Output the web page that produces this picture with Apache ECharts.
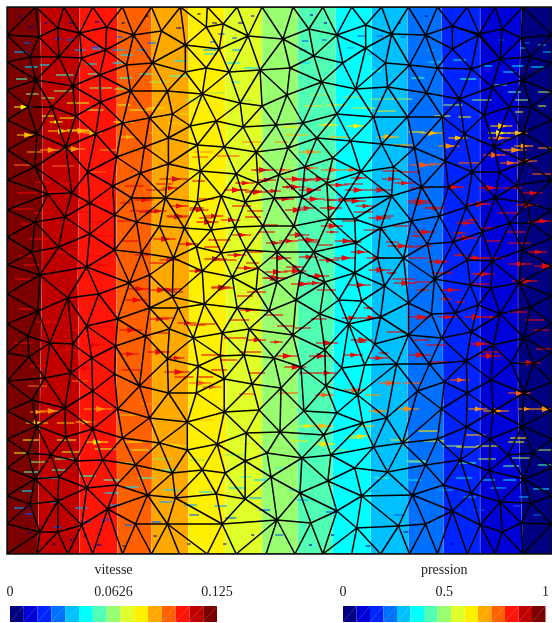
<!DOCTYPE html>
<html><head><meta charset="utf-8">
<style>html,body{margin:0;padding:0;background:#fff}#c{width:552px;height:623px}</style>
<script src="https://cdn.jsdelivr.net/npm/echarts@6/dist/echarts.min.js"></script>
</head><body><div id="c"></div>
<script>
const bandColors=['#7b0000','#c00000','#ff1408','#ff6000','#ffa800','#fff000','#e0ff28','#98ff70','#50ffb4','#00ffff','#00c0ff','#0070ff','#0024ff','#0000d8','#000080'];
const legendColors=bandColors.slice().reverse();
const speedTicks=['0','0.0626','0.125'];
const pressureTicks=['0','0.5','1'];
const edgeY=[7,140,280,410,554];
const bandEdges=[[7,7,7,7,7],[40,43,42,40,38],[80,80,78,80,80],[118,117,117,117,118],[152,153,152,153,152],[189,190,190,189,189],[225,227,227,227,226],[263,263,263,263,263],[299,299,299,299,299],[337,337,336,334,334],[373,373,373,372,372],[409,409,409,409,410],[443,445,444,445,445],[482,482,482,482,482],[524,519,520,520,525],[554,554,554,554,554]];
const boundaryNodes=[[7,7],[36,7],[64,7],[93,7],[123,7],[152,7],[181,7],[208,7],[238,7],[263,7],[294,7],[324,7],[353,7],[383,7],[410,7],[439,7],[469,7],[497,7],[525,7],[554,7],
[7,35],[7,62],[7,90],[7,120],[7,150],[7,180],[7,210],[7,237],[7,265],[7,294],[7,324],[7,353],[7,381],[7,411],[7,439],[7,468],[7,496],[7,524],[7,554],
[37,554],[68,554],[93,554],[123,554],[152,554],[180,554],[208,554],[237,554],[267,554],[296,554],[324,554],[353,554],[382,554],[411,554],[439,554],[469,554],[497,554],[525,554],[554,554],
[554,35],[554,63],[554,92],[554,120],[554,150],[554,180],[554,210],[554,238],[554,266],[554,296],[554,324],[554,353],[554,382],[554,411],[554,439],[554,468],[554,496],[554,524]];
const nodesTopLeft=[[39,37],[58,28],[80,33],[107,27],[134,35],[162,31],[186,45],[207,27],[224,24],[249,36],[30,57],[59,57],[82,58],[106,50],[127,65],[153,63],[186,72],[207,68],[220,49],[261,70],[230,72],[36,80],[73,86],[100,75],[131,91],[168,91],[203,94],[241,103],[28,107],[52,107],[76,116],[101,102],[123,123],[37,134],[66,147],[96,134],[35,167],[88,172],[117,157],[141,173],[48,194],[72,193],[90,203],[113,186],[132,198],[35,222],[65,217],[90,234],[115,215],[137,222],[160,226],[59,247],[32,252],[87,267],[115,250],[142,253],[40,275]];
const nodesCentreUpper=[[150,118],[173,114],[191,126],[217,121],[244,127],[277,125],[304,123],[338,114],[263,106],[169,138],[198,145],[225,147],[257,152],[289,148],[318,138],[145,147],[169,164],[201,171],[237,174],[259,183],[280,175],[306,167],[334,158],[166,198],[198,202],[222,196],[246,202],[275,198],[303,197],[328,183],[330,219],[185,228],[212,230],[236,227],[264,226],[295,226],[174,258],[197,247],[222,253],[247,250],[278,252],[315,252],[203,271],[233,277],[259,268],[278,282],[302,272],[326,282],[257,290],[150,275],[173,297]];
const nodesCentreLower=[[150,308],[179,308],[205,304],[238,308],[270,311],[297,300],[321,314],[340,300],[170,329],[194,338],[223,333],[250,329],[294,335],[168,359],[199,366],[221,356],[245,355],[275,358],[302,367],[326,350],[343,368],[169,393],[197,393],[225,379],[253,384],[282,388],[327,386],[225,412],[260,410],[305,411],[338,413],[188,422],[247,433],[281,432],[325,435],[160,443],[218,444],[268,453],[303,458],[332,455],[188,450],[173,473],[203,470],[226,473],[246,461],[272,477],[150,418]];
const nodesTopRight=[[310,29],[338,35],[367,25],[393,34],[427,35],[454,26],[481,34],[284,39],[315,56],[344,63],[367,48],[387,63],[411,65],[454,49],[439,68],[473,69],[291,68],[323,82],[357,89],[389,87],[428,93],[461,99],[288,95],[375,117],[409,117],[444,117],[352,141],[383,144],[416,148],[447,161],[466,134],[362,172],[395,167],[423,187],[450,187],[474,172],[345,199],[393,196],[441,216],[468,207],[356,219],[382,228],[413,221],[429,244],[455,242],[357,243],[379,258],[405,258],[436,279],[469,260],[356,273],[386,286],[410,303],[363,301],[472,285],[480,305],[457,313],[433,314],[382,317],[350,324],[410,335],[443,338],[473,332],[376,344]];
const nodesRightEdge=[[480,35],[504,29],[523,38],[502,59],[532,57],[525,80],[494,87],[511,107],[533,107],[486,115],[525,133],[496,147],[527,162],[501,172],[518,185],[497,198],[529,203],[512,223],[533,223],[484,232],[524,250],[494,261],[521,283],[493,288],[532,307],[502,314],[526,338],[495,345],[513,363],[535,364],[493,380],[526,393],[495,411],[524,426],[492,439],[510,455],[535,453],[491,471],[526,479],[502,502],[533,503],[523,523],[504,532],[482,525]];
const nodesBottomRight=[[468,361],[398,364],[431,364],[366,365],[446,382],[359,395],[419,391],[469,393],[388,418],[443,409],[364,423],[468,427],[375,447],[404,443],[439,439],[356,468],[389,472],[427,465],[462,460],[329,481],[301,493],[363,496],[414,495],[445,485],[473,493],[338,511],[454,511],[278,520],[312,523],[358,528],[400,526],[427,524]];
const nodesBottomLeft=[[68,298],[99,294],[130,283],[38,311],[87,326],[118,319],[146,336],[28,336],[50,343],[73,344],[116,346],[92,358],[29,357],[45,378],[71,373],[115,374],[140,386],[32,400],[93,391],[65,408],[118,409],[37,426],[93,429],[123,438],[66,437],[28,453],[51,455],[76,461],[103,460],[136,465],[35,479],[59,477],[87,488],[117,485],[148,495],[30,504],[58,501],[108,509],[176,498],[217,494],[246,499],[82,525],[136,524],[168,524],[223,524],[40,532],[58,532]];
const arrowsBlueDark=[[18,16,2],[44,23,2],[69,23,3],[95,22,3],[122,23,2],[146,16,2],[198,14,2],[213,23,3],[239,23,3],[252,16,2],[311,15,2],[325,23,2],[399,23,2],[426,16,2],[451,23,2],[484,16,2],[510,15,2],[29,27,3],[177,28,3],[18,546,2],[53,544,2],[84,536,2],[97,545,3],[123,546,2],[154,536,2],[188,544,2],[224,544,2],[252,535,2],[310,545,2],[332,535,2],[367,546,3],[405,532,3],[452,544,2],[490,546,2],[510,538,3],[28,533,2],[70,540,2]];
const arrowsBlue=[[24,43,4],[55,39,4],[67,40,4],[92,47,5],[117,37,4],[148,43,5],[211,42,3],[219,34,4],[233,38,3],[303,41,4],[323,40,3],[359,36,5],[378,36,4],[402,37,3],[436,36,4],[500,40,4],[527,43,3],[25,514,5],[54,527,5],[82,522,6],[102,520,5],[125,525,5],[152,522,6],[190,515,6],[226,518,7],[260,510,7],[327,512,6],[276,535,5],[395,515,7],[431,516,6],[475,510,7],[515,506,5],[535,515,5]];
const arrowsAzure=[[14,52,8],[75,50,7],[92,49,6],[113,50,8],[138,50,6],[204,50,8],[233,50,6],[300,50,5],[348,48,5],[368,54,7],[428,50,5],[522,48,4],[540,45,5],[545,52,5],[14,508,7],[50,502,7],[75,508,8],[110,505,8],[160,502,8],[185,505,8],[215,506,8],[250,498,8],[298,500,7],[370,491,8],[440,490,9],[465,497,8],[492,488,10],[521,497,7]];
const arrowsCyan=[[25,67,8],[40,65,6],[86,64,7],[113,63,7],[121,55,8],[175,61,8],[205,54,8],[228,63,8],[245,68,9],[300,63,7],[372,69,7],[430,62,9],[455,60,8],[505,72,8],[514,66,7],[533,67,9],[486,66,5],[22,491,7],[43,478,9],[105,493,9],[125,487,9],[165,490,9],[200,492,8],[230,488,10],[255,480,8],[290,490,7],[340,478,10],[410,480,8],[458,478,10],[484,480,8],[505,480,8],[535,489,10]];
const arrowsMint=[[16,79,7],[56,75,11],[88,74,6],[120,78,8],[140,74,8],[170,76,11],[232,82,6],[300,77,8],[325,79,6],[370,71,8],[413,78,8],[462,79,10],[496,85,8],[510,92,8],[24,472,9],[52,470,9],[80,476,10],[104,480,10],[139,478,10],[162,470,10],[240,477,8],[275,468,8],[310,462,9],[376,478,9],[410,462,11],[460,463,11],[505,466,10],[540,465,10]];
const arrowsLime=[[26,94,8],[42,98,8],[54,91,12],[90,88,14],[115,89,9],[150,82,12],[185,100,12],[210,93,10],[240,100,8],[310,95,12],[345,97,11],[372,99,14],[393,99,13],[445,105,12],[474,100,12],[517,100,8],[540,92,8],[30,462,10],[55,459,12],[118,463,10],[154,459,12],[190,460,10],[225,455,12],[270,448,12],[332,450,10],[408,461,12],[444,446,12],[480,459,11],[514,458,11],[538,450,10]];
const arrowsYellowGreen=[[42,116,8],[67,103,14],[85,110,12],[118,105,8],[130,110,14],[180,114,10],[203,112,10],[305,106,12],[327,105,13],[354,108,14],[378,111,12],[436,116,10],[460,117,8],[517,112,5],[540,106,5],[14,453,12],[62,452,11],[95,449,13],[132,450,11],[172,446,10],[240,444,11],[292,441,11],[346,438,12],[392,440,12],[425,441,13],[458,447,14],[478,446,14],[510,442,10]];
const arrowsYellow=[[14,107,12,1],[60,118,10],[50,122,8,1],[67,130,14],[114,122,12],[147,108,12],[168,123,12],[284,127,12],[320,125,12,1],[348,126,12,1],[410,132,10],[490,133,14,1],[23,440,10],[57,440,12],[86,442,14,1],[124,442,12],[165,445,10],[300,426,10,1],[314,444,14,1],[352,436,12,1],[420,431,12],[512,438,10]];
const arrowsAmber=[[17,135,13,1],[48,131,16,1],[70,131,14,1],[83,133,12,1],[121,137,10,1],[150,133,12],[172,124,12,1],[287,135,14],[330,137,12],[378,137,14,1],[422,133,14,1],[450,138,12,1],[492,126,14,1],[510,133,12,1],[26,423,14,1],[57,423,11],[76,422,12,1],[120,415,12],[163,416,12],[195,420,12],[312,426,14,1],[360,426,10],[468,435,12]];
const arrowsOrange=[[27,152,10],[40,150,14,1],[62,149,15,1],[100,150,14],[195,152,12],[243,142,12],[276,142,8],[300,152,14,1],[395,145,12],[440,146,13,1],[490,138,14,1],[503,150,16,1],[516,146,12,1],[540,148,10],[30,412,10,1],[40,411,14,1],[84,409,18,1],[141,404,12],[366,395,10],[370,411,12,1],[398,409,14,1],[470,409,12,1],[485,411,16,1],[520,409,10,1],[536,409,14,1]];
const arrowsDeepOrange=[[14,165,12],[52,166,14],[90,172,10],[125,172,12],[160,165,12],[193,157,10],[218,156,14],[255,170,10,1],[276,170,10,1],[300,168,12,1],[322,170,14,1],[345,170,10,1],[411,165,16,1],[430,164,10],[460,163,14],[502,163,12,1],[520,161,12,1],[485,155,14,1],[534,174,14],[28,386,12],[72,381,10],[190,383,14,1],[203,387,12,1],[240,394,10],[280,393,12],[316,395,12,1],[345,390,14,1],[380,383,14,1],[405,383,12],[452,380,12,1],[510,393,14,1]];
const arrowsRedTop=[[35,182,10],[61,184,10],[125,186,12],[157,184,10],[193,181,8],[236,183,12,1],[258,180,12,1],[285,179,14,1],[309,179,14,1],[352,178,10,1],[384,171,12],[403,172,12],[17,193,13],[46,192,11],[78,203,12],[120,203,9],[135,200,12,1],[163,188,10,1],[199,199,10],[225,190,14,1],[246,192,14,1],[266,191,10,1],[284,187,14,1],[300,190,14,1],[330,185,12,1],[346,190,15,1],[396,183,12,1],[412,188,12],[445,187,13,1],[480,188,14,1],[505,188,12],[525,193,12,1],[14,209,12],[34,213,10],[66,212,14],[130,211,14],[148,211,12,1],[170,206,12,1],[190,210,12,1],[205,216,12,1],[233,206,12],[248,211,10],[276,199,12,1],[303,199,14,1],[321,208,14,1],[345,201,14,1],[355,212,12],[409,201,14,1],[426,208,10],[470,204,14,1],[500,213,12],[518,205,14,1],[530,222,10],[20,224,10],[56,223,14],[86,222,12],[118,221,8],[167,216,14,1],[197,222,14,1],[222,220,12,1],[246,217,10],[263,225,10],[286,210,14,1],[322,226,14,1],[343,221,10],[370,218,14,1],[394,226,10],[415,232,14,1],[458,223,12,1],[480,228,10],[508,232,12],[535,221,12,1]];
const arrowsRedMid=[[29,239,12],[88,236,14],[123,241,10],[154,239,14,1],[180,244,12,1],[209,240,14],[233,235,12,1],[260,232,10],[280,241,12,1],[299,240,14,1],[318,245,10],[336,241,14,1],[389,246,16,1],[418,246,10],[456,238,14,1],[486,241,10],[510,243,14],[18,256,10],[56,252,12],[90,256,12],[135,255,10],[160,260,13,1],[205,247,10],[228,255,12,1],[248,252,10],[270,258,14,1],[300,257,12,1],[320,260,13,1],[352,252,12,1],[410,258,12],[430,262,13,1],[466,258,14,1],[484,258,14],[530,252,12,1],[24,265,10],[90,265,12,1],[150,263,10],[190,271,10,1],[215,260,14],[238,268,12,1],[266,272,14,1],[285,271,14,1],[308,276,14,1],[335,258,14,1],[370,270,14,1],[394,279,14],[433,273,13],[474,274,14,1],[510,264,15,1],[536,266,14,1],[15,279,10],[128,289,14,1],[150,290,14,1],[163,289,12],[212,288,14,1],[238,296,10],[248,292,12],[265,278,14,1],[292,284,14,1],[318,290,12],[350,285,14,1],[395,283,14,1],[416,282,10],[443,290,12,1],[472,284,12],[514,281,16,1]];
const arrowsRedLow=[[19,309,10],[56,300,12],[86,299,10],[125,300,14,1],[150,319,12,1],[160,318,10],[178,323,12,1],[200,324,10],[231,320,12],[240,310,12,1],[265,315,12],[278,326,10],[312,319,10],[343,318,12,1],[361,318,14,1],[411,317,14,1],[440,317,12,1],[466,317,14,1],[510,312,12],[527,320,12],[36,322,14],[66,330,12],[98,327,10],[120,330,14,1],[154,333,10],[190,325,10],[225,338,14],[248,340,12,1],[271,342,8,1],[296,328,10],[317,343,14,1],[352,340,14,1],[388,332,12],[415,340,10],[428,345,12],[470,344,14,1],[484,352,12],[535,330,10],[14,343,12],[60,350,12],[83,345,14,1],[120,354,12,1],[148,352,14,1],[169,358,10,1],[202,355,14],[222,360,10],[240,352,14],[276,356,14,1],[310,356,14,1],[345,355,12,1],[370,358,12,1],[410,355,14,1],[430,362,12],[480,356,14,1],[520,363,14,1],[538,349,10],[30,366,12],[74,368,14,1],[122,370,12],[165,372,16,1],[175,377,12],[198,377,10],[212,370,10],[250,373,10],[285,367,14,1],[300,373,12],[318,373,12,1]];
const arrowsRedExtra=[[160,179,18,1],[147,190,12],[140,212,12,1],[168,217,12,1],[200,218,8],[190,208,9,1],[237,190,8],[250,191,8,1],[283,187,8,1],[297,180,12,1],[252,170,14,1],[298,208,12,1],[325,200,8,1],[288,235,14,1],[267,243,11,1],[205,259,14,1],[287,267,12,1],[263,278,14,1],[307,283,11,1],[212,287,12,1],[160,290,11,1],[168,292,10],[327,232,8,1],[308,242,8],[247,263,8],[383,179,12,1],[345,184,12],[370,190,14,1],[333,200,12,1],[410,203,14,1],[427,208,12,1],[357,206,12,1],[382,216,8],[467,220,8,1],[365,230,14],[413,236,6,1],[455,233,8,1],[350,242,8,1],[387,242,8],[407,247,8],[368,258,12,1],[433,261,9,1],[455,255,8,1],[475,274,8,1],[388,273,6,1],[418,290,8,1],[441,299,8,1],[457,302,6,1],[365,308,6,1],[418,318,8,1],[487,317,8,1],[358,342,6,1],[380,353,6,1],[477,343,6,1]];
const arrowGroups=[[arrowsBlueDark,'#0000b0'],[arrowsBlue,'#0058ff'],[arrowsAzure,'#00a8ff'],[arrowsCyan,'#00e0ff'],[arrowsMint,'#40ffc0'],[arrowsLime,'#98e860'],[arrowsYellowGreen,'#e0e820'],[arrowsYellow,'#ffe800'],[arrowsAmber,'#ffb800'],[arrowsOrange,'#ff9000'],[arrowsDeepOrange,'#ff5a10'],[arrowsRedTop,'#e80808'],[arrowsRedMid,'#e80808'],[arrowsRedLow,'#e80808'],[arrowsRedExtra,'#c81818']];
const arrowLengthScale=1.6;

const nodes=[].concat(boundaryNodes,nodesTopLeft,nodesCentreUpper,nodesCentreLower,nodesTopRight,nodesRightEdge,nodesBottomRight,nodesBottomLeft);

function meshEdges(pts){
  const P=pts.concat([[-5000,-5000],[6000,-5000],[300,7000]]);const n=pts.length;
  let tris=[[n,n+1,n+2]];
  const inC=(t,p)=>{let [a,b,c]=t.map(i=>P[i]);
    const ax=a[0]-p[0],ay=a[1]-p[1],bx=b[0]-p[0],by=b[1]-p[1],cx=c[0]-p[0],cy=c[1]-p[1];
    const d=(ax*ax+ay*ay)*(bx*cy-cx*by)-(bx*bx+by*by)*(ax*cy-cx*ay)+(cx*cx+cy*cy)*(ax*by-bx*ay);
    const o=(b[0]-a[0])*(c[1]-a[1])-(b[1]-a[1])*(c[0]-a[0]);
    return o>0?d>0:d<0;};
  for(let i=0;i<n;i++){
    const bad=[],keep=[];
    tris.forEach(t=>(inC(t,P[i])?bad:keep).push(t));
    const cnt={};
    bad.forEach(t=>[[t[0],t[1]],[t[1],t[2]],[t[2],t[0]]].forEach(e=>{const k=Math.min(e[0],e[1])+'_'+Math.max(e[0],e[1]);cnt[k]=(cnt[k]||0)+1;}));
    tris=keep;
    Object.keys(cnt).forEach(k=>{if(cnt[k]===1){const[a,b]=k.split('_').map(Number);tris.push([a,b,i]);}});
  }
  const seen={};
  tris.forEach(t=>{if(Math.max(t[0],t[1],t[2])>=n)return;[[t[0],t[1]],[t[1],t[2]],[t[2],t[0]]].forEach(e=>{seen[Math.min(e[0],e[1])+'_'+Math.max(e[0],e[1])]=1;});});
  return Object.keys(seen).map(k=>k.split('_').map(Number));
}
const edges=meshEdges(nodes);
const arrows=[];arrowGroups.forEach(g=>g[0].forEach(a=>arrows.push([a[0],a[1],a[2]*arrowLengthScale,a[3]||0,g[1]])));

const serif='"Liberation Serif","Times New Roman",serif';
function legendAxis(grid,name,ticks){return {gridIndex:grid,type:'value',min:0,max:2,interval:1,position:'top',
  name:name,nameLocation:'middle',nameGap:29,nameTextStyle:{fontFamily:serif,fontSize:14,color:'#222'},
  axisLine:{show:false},axisTick:{show:false},splitLine:{show:false},
  axisLabel:{show:true,margin:7,fontFamily:serif,fontSize:14,color:'#222',hideOverlap:false,showMinLabel:true,showMaxLabel:true,formatter:v=>ticks[v]}};}
function hiddenY(grid){return {gridIndex:grid,type:'value',min:0,max:1,show:false};}
function legendCells(xi,yi){return {type:'custom',xAxisIndex:xi,yAxisIndex:yi,silent:true,animation:false,clip:false,
  data:legendColors.map((c,i)=>[i]),
  renderItem(p,api){const i=p.dataIndex,w=2/legendColors.length;
    const a=api.coord([i*w,1]),b=api.coord([(i+1)*w,0]);
    return {type:'group',children:[
      {type:'rect',shape:{x:a[0],y:a[1],width:b[0]-a[0],height:b[1]-a[1]},style:{fill:legendColors[i],stroke:null}},
      {type:'line',shape:{x1:a[0],y1:b[1],x2:b[0],y2:a[1]},style:{stroke:'rgba(255,255,255,0.3)',lineWidth:0.6}}]};}};}

const option={animation:false,backgroundColor:'#fff',
 grid:[{left:7,top:7,width:547,height:547,show:true,borderColor:'#111',borderWidth:1.5,backgroundColor:'transparent',z:5},
       {left:10,top:606,width:207,height:16},{left:343,top:606,width:206,height:16}],
 xAxis:[{gridIndex:0,type:'value',min:7,max:554,show:false},legendAxis(1,'vitesse',speedTicks),legendAxis(2,'pression',pressureTicks)],
 yAxis:[{gridIndex:0,type:'value',min:7,max:554,inverse:true,show:false},hiddenY(1),hiddenY(2)],
 series:[
 {type:'custom',silent:true,animation:false,clip:true,z:1,data:bandColors.map((c,i)=>[i]),
  renderItem(p,api){const i=p.dataIndex,pts=[];
    edgeY.forEach((y,k)=>pts.push(api.coord([bandEdges[i][k],y])));
    for(let k=edgeY.length-1;k>=0;k--)pts.push(api.coord([bandEdges[i+1][k],edgeY[k]]));
    return {type:'polygon',shape:{points:pts},style:{fill:bandColors[i],stroke:'rgba(255,255,255,0.18)',lineWidth:0.7}};}},
 {type:'custom',silent:true,animation:false,clip:true,z:2,data:arrows.map((a,i)=>[i]),
  renderItem(p,api){const a=arrows[p.dataIndex],s=api.coord([a[0],a[1]]),e=api.coord([a[0]+a[2],a[1]]);
    const ch=[{type:'line',shape:{x1:s[0],y1:s[1],x2:e[0],y2:e[1]},style:{stroke:a[4],lineWidth:1.1}}];
    if(a[3]){const len=e[0]-s[0],L=Math.min(9,len*0.4),H=L*0.34,t=s[0]+len*0.75;
      ch.push({type:'polygon',shape:{points:[[t,e[1]],[t-L,e[1]-H],[t-L,e[1]+H]]},style:{fill:a[4]}});}
    return {type:'group',children:ch};}},
 {type:'custom',silent:true,animation:false,clip:true,z:3,data:edges.map((e,i)=>[i]),
  renderItem(p,api){const e=edges[p.dataIndex],a=api.coord(nodes[e[0]]),b=api.coord(nodes[e[1]]);
    return {type:'line',shape:{x1:a[0],y1:a[1],x2:b[0],y2:b[1]},style:{stroke:'#000',lineWidth:1.5}};}},
 legendCells(1,1),legendCells(2,2)]};
const chart=echarts.init(document.getElementById('c'),null,{renderer:'canvas'});
chart.setOption(option);
</script></body></html>
